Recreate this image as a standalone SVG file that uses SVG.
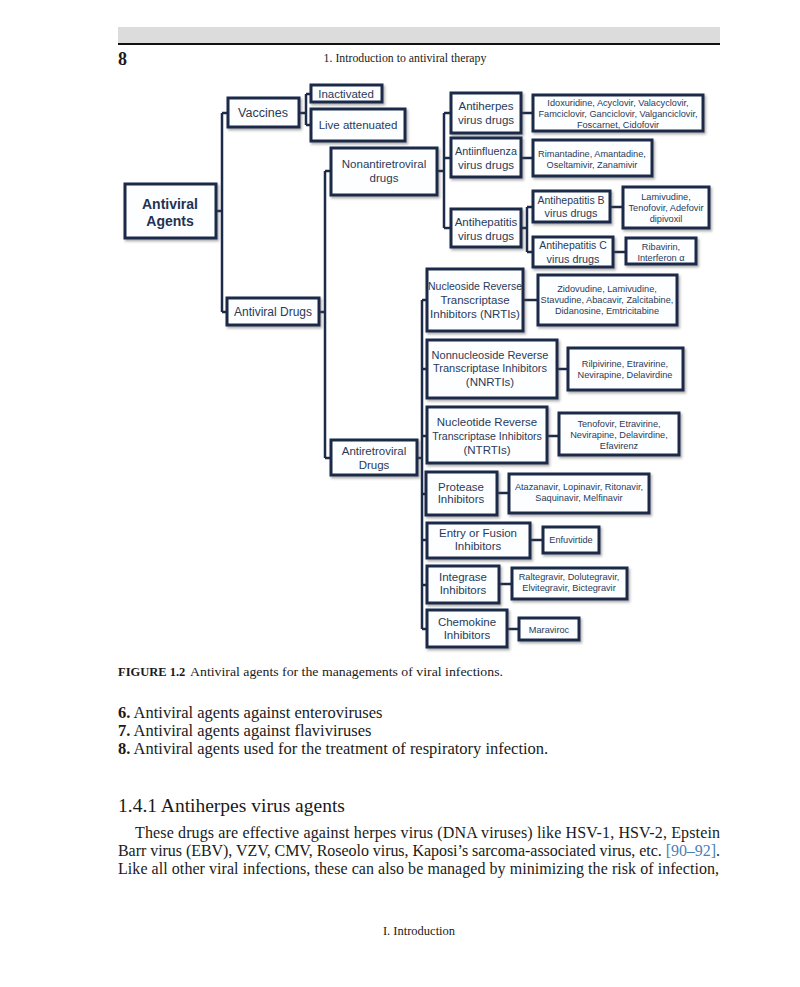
<svg xmlns="http://www.w3.org/2000/svg" width="800" height="987" viewBox="0 0 800 987">
<defs>
<filter id="sh" x="-10%" y="-10%" width="130%" height="140%">
<feDropShadow dx="1.5" dy="2" stdDeviation="1" flood-color="#555" flood-opacity="0.45"/>
</filter>
</defs>
<style>
.b{fill:#fdfeff;stroke:#1c2b4a;stroke-width:3;filter:url(#sh)}
.t{font-family:"Liberation Sans",Arial,sans-serif;font-size:11.5px;fill:#2a3a58;text-anchor:middle}
.tb{font-family:"Liberation Sans",Arial,sans-serif;font-size:14px;font-weight:bold;fill:#1f3352;text-anchor:middle}
.d{font-family:"Liberation Sans",Arial,sans-serif;font-size:9.2px;fill:#2a3a58;text-anchor:middle}
.c{fill:none;stroke:#1c2b4a;stroke-width:2.5}
.s{font-family:"Liberation Serif","Times New Roman",serif;fill:#1a1a1a}
</style>
<rect x="118" y="27" width="602" height="16" fill="#dcdcdc"/>
<line x1="118" y1="44" x2="720" y2="44" stroke="#111" stroke-width="2"/>
<text class="s" x="118" y="65" font-size="18" font-weight="bold">8</text>
<text class="s" x="405" y="62" font-size="11.8" text-anchor="middle">1.  Introduction to antiviral therapy</text>

<g id="connectors">
<path class="c" d="M216 211H222M222 113V312M222 113H228M222 312H227"/>
<path class="c" d="M299 113H306M306 94V125M306 94H311M306 125H311"/>
<path class="c" d="M319 312H325M325 171V458M325 171H331M325 458H331"/>
<path class="c" d="M437 171H444M444 113V228M444 113H451M444 158H451M444 228H451"/>
<path class="c" d="M521 113H533M521 158H533M521 228H527M527 207V252M527 207H533M527 252H533M610 207H623M613 252H626"/>
<path class="c" d="M417 458H422M422 300V629M422 300H427M422 369H427M422 436H427M422 494H426M422 540H427M422 585H427M422 629H427"/>
<path class="c" d="M523 300H538M557 369H568M547 436H559M497 493H509M530 540H543M499 584H512M507 629H519"/>
</g>

<g id="antiviral-agents"><rect class="b" x="125" y="184" width="91" height="54"/><text class="tb" x="170" y="209">Antiviral</text><text class="tb" x="170" y="226">Agents</text></g>
<g id="vaccines"><rect class="b" x="228" y="98" width="71" height="29"/><text class="t" x="263" y="117" style="font-size:12.5px">Vaccines</text></g>
<g id="inactivated"><rect class="b" x="311" y="85" width="71" height="17"/><text class="t" x="346" y="98">Inactivated</text></g>
<g id="live-attenuated"><rect class="b" x="311" y="109" width="94" height="32"/><text class="t" x="358" y="129">Live attenuated</text></g>
<g id="antiviral-drugs"><rect class="b" x="227" y="298" width="92" height="27"/><text class="t" x="273" y="316" style="font-size:12px">Antiviral Drugs</text></g>
<g id="nonantiretroviral"><rect class="b" x="331" y="148" width="106" height="47"/><text class="t" x="384" y="168">Nonantiretroviral</text><text class="t" x="384" y="182">drugs</text></g>
<g id="antiretroviral"><rect class="b" x="331" y="440" width="86" height="35"/><text class="t" x="374" y="455">Antiretroviral</text><text class="t" x="374" y="469">Drugs</text></g>

<g id="antiherpes"><rect class="b" x="451" y="93" width="70" height="40"/><text class="t" x="486" y="110">Antiherpes</text><text class="t" x="486" y="124">virus drugs</text></g>
<g id="antiherpes-drugs"><rect class="b" x="533" y="95" width="170" height="36"/><text class="d" x="618" y="106">Idoxuridine, Acyclovir, Valacyclovir,</text><text class="d" x="618" y="117">Famciclovir, Ganciclovir, Valganciclovir,</text><text class="d" x="618" y="128">Foscarnet, Cidofovir</text></g>
<g id="antiinfluenza"><rect class="b" x="451" y="138" width="70" height="39"/><text class="t" x="486" y="155" style="font-size:10.8px">Antiinfluenza</text><text class="t" x="486" y="169">virus drugs</text></g>
<g id="antiinfluenza-drugs"><rect class="b" x="533" y="140" width="119" height="36"/><text class="d" x="592" y="157">Rimantadine, Amantadine,</text><text class="d" x="592" y="168">Oseltamivir, Zanamivir</text></g>
<g id="antihepatitis"><rect class="b" x="451" y="209" width="70" height="38"/><text class="t" x="486" y="226">Antihepatitis</text><text class="t" x="486" y="240">virus drugs</text></g>
<g id="antihepatitis-b"><rect class="b" x="533" y="191" width="77" height="31"/><text class="t" x="571" y="204" style="font-size:10.5px">Antihepatitis B</text><text class="t" x="571" y="217" style="font-size:10.8px">virus drugs</text></g>
<g id="hep-b-drugs"><rect class="b" x="623" y="187" width="86" height="41"/><text class="d" x="666" y="200">Lamivudine,</text><text class="d" x="666" y="211">Tenofovir, Adefovir</text><text class="d" x="666" y="222">dipivoxil</text></g>
<g id="antihepatitis-c"><rect class="b" x="533" y="237" width="80" height="30"/><text class="t" x="573" y="249" style="font-size:10.5px">Antihepatitis C</text><text class="t" x="573" y="263" style="font-size:10.8px">virus drugs</text></g>
<g id="hep-c-drugs"><rect class="b" x="626" y="238" width="70" height="26"/><text class="d" x="661" y="250">Ribavirin,</text><text class="d" x="661" y="261">Interferon α</text></g>

<g id="nrti"><rect class="b" x="427" y="269" width="96" height="62"/><text class="t" x="475" y="290" style="font-size:10.5px">Nucleoside Reverse</text><text class="t" x="475" y="304">Transcriptase</text><text class="t" x="475" y="318">Inhibitors (NRTIs)</text></g>
<g id="nrti-drugs"><rect class="b" x="538" y="275" width="139" height="50"/><text class="d" x="607" y="292">Zidovudine, Lamivudine,</text><text class="d" x="607" y="303">Stavudine, Abacavir, Zalcitabine,</text><text class="d" x="607" y="314">Didanosine, Emtricitabine</text></g>
<g id="nnrti"><rect class="b" x="427" y="340" width="130" height="58"/><text class="t" x="490" y="359" style="font-size:11px">Nonnucleoside Reverse</text><text class="t" x="490" y="372" style="font-size:11px">Transcriptase Inhibitors</text><text class="t" x="490" y="386">(NNRTIs)</text></g>
<g id="nnrti-drugs"><rect class="b" x="568" y="348" width="115" height="42"/><text class="d" x="625" y="367">Rilpivirine, Etravirine,</text><text class="d" x="625" y="378">Nevirapine, Delavirdine</text></g>
<g id="ntrti"><rect class="b" x="427" y="407" width="120" height="56"/><text class="t" x="487" y="426">Nucleotide Reverse</text><text class="t" x="487" y="440" style="font-size:10.6px">Transcriptase Inhibitors</text><text class="t" x="487" y="454">(NTRTIs)</text></g>
<g id="ntrti-drugs"><rect class="b" x="559" y="413" width="120" height="42"/><text class="d" x="619" y="427">Tenofovir, Etravirine,</text><text class="d" x="619" y="438">Nevirapine, Delavirdine,</text><text class="d" x="619" y="449">Efavirenz</text></g>
<g id="protease"><rect class="b" x="426" y="472" width="71" height="43"/><text class="t" x="461" y="491">Protease</text><text class="t" x="461" y="503">Inhibitors</text></g>
<g id="protease-drugs"><rect class="b" x="509" y="474" width="140" height="39"/><text class="d" x="579" y="490">Atazanavir, Lopinavir, Ritonavir,</text><text class="d" x="579" y="501">Saquinavir, Melfinavir</text></g>
<g id="entry"><rect class="b" x="427" y="523" width="103" height="35"/><text class="t" x="478" y="537">Entry or Fusion</text><text class="t" x="478" y="550">Inhibitors</text></g>
<g id="entry-drugs"><rect class="b" x="543" y="527" width="56" height="26"/><text class="d" x="571" y="543">Enfuvirtide</text></g>
<g id="integrase"><rect class="b" x="427" y="566" width="72" height="37"/><text class="t" x="463" y="581">Integrase</text><text class="t" x="463" y="594">Inhibitors</text></g>
<g id="integrase-drugs"><rect class="b" x="512" y="568" width="115" height="31"/><text class="d" x="569" y="580">Raltegravir, Dolutegravir,</text><text class="d" x="569" y="591">Elvitegravir, Bictegravir</text></g>
<g id="chemokine"><rect class="b" x="427" y="610" width="80" height="37"/><text class="t" x="467" y="626">Chemokine</text><text class="t" x="467" y="639">Inhibitors</text></g>
<g id="chemokine-drugs"><rect class="b" x="519" y="618" width="60" height="22"/><text class="d" x="549" y="633">Maraviroc</text></g>

<text class="s" x="118" y="676" font-size="12.5" font-weight="bold">FIGURE 1.2</text>
<text class="s" x="190" y="676" font-size="13.5" textLength="313" lengthAdjust="spacingAndGlyphs">Antiviral agents for the managements of viral infections.</text>
<text class="s" x="118" y="718" font-size="16.5"><tspan font-weight="bold">6.</tspan> Antiviral agents against enteroviruses</text>
<text class="s" x="118" y="736" font-size="16.5"><tspan font-weight="bold">7.</tspan> Antiviral agents against flaviviruses</text>
<text class="s" x="118" y="754" font-size="16.5"><tspan font-weight="bold">8.</tspan> Antiviral agents used for the treatment of respiratory infection.</text>
<text class="s" x="118" y="812" font-size="19.5">1.4.1  Antiherpes virus agents</text>
<text class="s" x="135" y="838" font-size="16" textLength="585" lengthAdjust="spacing">These drugs are effective against herpes virus (DNA viruses) like HSV-1, HSV-2, Epstein</text>
<text class="s" x="118" y="856" font-size="16" textLength="602" lengthAdjust="spacing">Barr virus (EBV), VZV, CMV, Roseolo virus, Kaposi’s sarcoma-associated virus, etc. <tspan fill="#4a7fb8">[90–92]</tspan>.</text>
<text class="s" x="118" y="874" font-size="16" textLength="601" lengthAdjust="spacing">Like all other viral infections, these can also be managed by minimizing the risk of infection,</text>
<text class="s" x="419" y="935" font-size="12.5" text-anchor="middle">I. Introduction</text>
</svg>
